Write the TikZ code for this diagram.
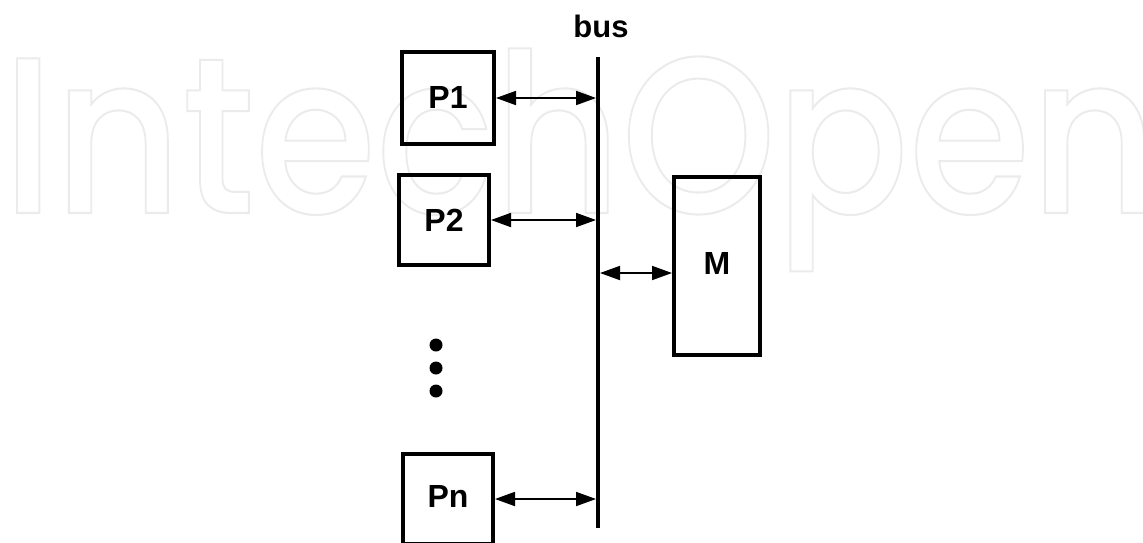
\documentclass[tikz,border=0pt]{standalone}
\usepackage{fontspec}
\setmainfont{Liberation Sans}
\newfontfamily\wmfont{Poppins}[UprightFont={* Medium}]
\usetikzlibrary{arrows.meta}
\begin{document}
\begin{tikzpicture}[x=1pt,y=-1pt,
  box/.style={draw, line width=4pt, inner sep=0pt, font=\fontsize{32}{34}\bfseries\selectfont},
  link/.style={line width=1.8pt, {Triangle[length=20pt,width=14pt]}-{Triangle[length=20pt,width=14pt]}},
  busline/.style={line width=4pt},
  dot/.style={fill=black, draw=none, circle, minimum size=13pt, inner sep=0pt},
  wm/.style={anchor=base west, inner sep=0pt, text=black!8}]
\useasboundingbox (0,0) rectangle (1143,542);
\clip (0,0) rectangle (1143,542);
% watermark
\node[wm] (wmark) at (2,213) {\scalebox{0.91}[1.03]{\wmfont\fontsize{216}{216}\selectfont\special{pdf:literal direct 1 Tr 2 w}IntechOpen\special{pdf:literal direct 0 Tr}}};
% bus
\coordinate (busTop) at (598,57);
\coordinate (busBot) at (598,528);
\draw[busline] (busTop) -- (busBot);
\node[anchor=base, font=\fontsize{31}{33}\bfseries\selectfont, inner sep=0pt] (buslabel) at (601,37) {bus};
% processors
\node[box, minimum width=92pt, minimum height=92pt] (P1) at (448,98) {\raisebox{2pt}{P1}};
\node[box, minimum width=90pt, minimum height=90pt] (P2) at (444,220) {P2};
\node[box, minimum width=90pt, minimum height=90pt] (Pn) at (448,499) {\raisebox{5pt}{Pn}};
\node[box, minimum width=86pt, minimum height=178pt] (M) at (717,266) {\raisebox{5pt}{M}};
% dots
\node[dot] (d1) at (436,345) {};
\node[dot] (d2) at (436,368) {};
\node[dot] (d3) at (436,391) {};
% links
\draw[link, shorten >=2pt] (P1.east) -- (P1.east -| busTop);
\draw[link, shorten >=2pt] (P2.east) -- (P2.east -| busTop);
\draw[link, shorten >=2pt] (Pn.east) -- (Pn.east -| busTop);
\coordinate (mlink) at (600,273);
\draw[link] (mlink) -- (mlink -| M.west);
\end{tikzpicture}
\end{document}
